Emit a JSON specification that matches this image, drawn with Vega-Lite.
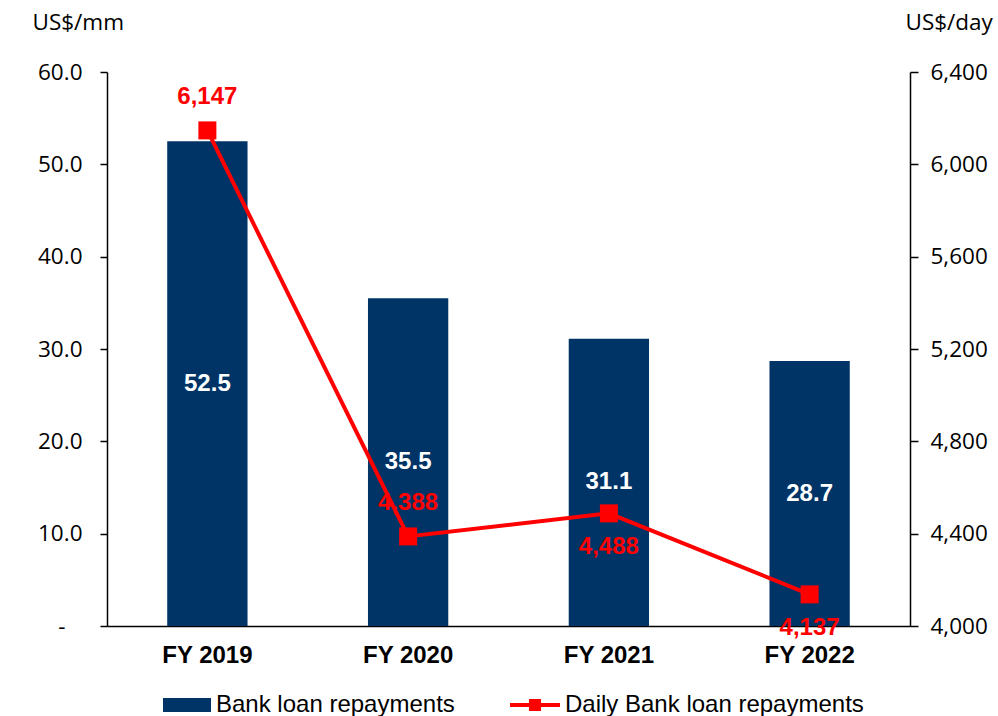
{
  "$schema": "https://vega.github.io/schema/vega-lite/v6.json",
  "width": 803,
  "height": 554,
  "autosize": {"type": "none"},
  "padding": {"left": 107, "top": 72, "right": 88, "bottom": 90},
  "background": "white",
  "config": {"view": {"stroke": null}, "axis": {"grid": false}},
  "data": {
    "values": [
      {"year": "FY 2019", "repay": 52.5, "daily": 6147},
      {"year": "FY 2020", "repay": 35.5, "daily": 4388},
      {"year": "FY 2021", "repay": 31.1, "daily": 4488},
      {"year": "FY 2022", "repay": 28.7, "daily": 4137}
    ]
  },
  "encoding": {
    "x": {
      "field": "year",
      "type": "nominal",
      "sort": null,
      "scale": {"paddingInner": 0.6, "paddingOuter": 0.3},
      "axis": {
        "title": null,
        "labelAngle": 0,
        "labelFont": "Liberation Sans",
        "labelFontWeight": "bold",
        "labelFontSize": 24,
        "labelColor": "black",
        "labelPadding": 17,
        "ticks": false,
        "domainColor": "black",
        "domainWidth": 1.5
      }
    }
  },
  "layer": [
    {
      "mark": {"type": "bar", "color": "#003366"},
      "encoding": {
        "y": {
          "field": "repay",
          "type": "quantitative",
          "scale": {"domain": [0, 60], "nice": false},
          "axis": {
            "values": [0, 10, 20, 30, 40, 50, 60],
            "labelExpr": "datum.value == 0 ? '-' : format(datum.value, '.1f')",
            "labelFont": "Open Sans",
            "labelFontSize": 22.5,
            "labelColor": "black",
            "labelPadding": {"condition": {"test": "datum.value == 0", "value": 35}, "value": 18},
            "tickSize": 7,
            "tickColor": "black",
            "tickWidth": 1.5,
            "domainColor": "black",
            "domainWidth": 1.5,
            "title": "US$/mm",
            "titleAngle": 0,
            "titleAlign": "left",
            "titleBaseline": "alphabetic",
            "titleX": -75,
            "titleY": -43,
            "titleFont": "Open Sans",
            "titleFontSize": 22.5,
            "titleFontWeight": "normal",
            "titleColor": "black"
          }
        },
        "fill": {
          "datum": "Bank loan repayments",
          "type": "nominal",
          "scale": {"domain": ["Bank loan repayments"], "range": ["#003366"]},
          "legend": {
            "orient": "none",
            "legendX": 56,
            "legendY": 609,
            "title": null,
            "padding": 0,
            "symbolType": "M-1,-0.29H1V0.29H-1Z",
            "symbolSize": 2304,
            "symbolStrokeWidth": 0,
            "labelFont": "Liberation Sans",
            "labelFontSize": 24,
            "labelColor": "black",
            "labelOffset": 5,
            "labelLimit": 400
          }
        }
      }
    },
    {
      "mark": {"type": "text", "color": "white", "font": "Liberation Sans", "fontWeight": "bold", "fontSize": 24, "baseline": "middle"},
      "encoding": {
        "y": {
          "field": "repay",
          "type": "quantitative",
          "scale": {"domain": [0, 120], "nice": false},
          "axis": null
        },
        "text": {"field": "repay", "type": "quantitative", "format": ".1f"}
      }
    },
    {
      "encoding": {
        "y": {
          "field": "daily",
          "type": "quantitative",
          "scale": {"domain": [4000, 6400], "nice": false, "zero": false},
          "axis": {
            "orient": "right",
            "values": [4000, 4400, 4800, 5200, 5600, 6000, 6400],
            "format": ",d",
            "labelFont": "Open Sans",
            "labelFontSize": 22.5,
            "labelColor": "black",
            "labelPadding": 12,
            "tickSize": 8,
            "tickColor": "black",
            "tickWidth": 1.5,
            "domainColor": "black",
            "domainWidth": 1.5,
            "title": "US$/day",
            "titleAngle": 0,
            "titleAlign": "left",
            "titleBaseline": "alphabetic",
            "titleX": -5,
            "titleY": -43,
            "titleFont": "Open Sans",
            "titleFontSize": 22.5,
            "titleFontWeight": "normal",
            "titleColor": "black"
          }
        }
      },
      "layer": [
        {
          "mark": {"type": "line", "strokeWidth": 4},
          "encoding": {
            "stroke": {
              "datum": "Daily Bank loan repayments",
              "type": "nominal",
              "scale": {"domain": ["Daily Bank loan repayments"], "range": ["#FF0000"]},
              "legend": {
                "orient": "none",
                "legendX": 403,
                "legendY": 608,
                "title": null,
                "padding": 0,
                "symbolType": "M-1,-0.08H1V0.08H-1Z M-0.24,-0.24H0.24V0.24H-0.24Z",
                "symbolSize": 2500,
                "symbolFillColor": "#FF0000",
                "symbolStrokeWidth": 0,
                "labelFont": "Liberation Sans",
                "labelFontSize": 24,
                "labelColor": "black",
                "labelOffset": 5,
                "labelLimit": 400
              }
            }
          }
        },
        {
          "mark": {"type": "point", "shape": "square", "filled": true, "size": 324, "color": "#FF0000", "opacity": 1}
        },
        {
          "transform": [{"filter": {"field": "year", "oneOf": ["FY 2019", "FY 2020"]}}],
          "mark": {"type": "text", "color": "#FF0000", "font": "Liberation Sans", "fontWeight": "bold", "fontSize": 24, "baseline": "middle", "dy": -33},
          "encoding": {"text": {"field": "daily", "type": "quantitative", "format": ","}}
        },
        {
          "transform": [{"filter": {"field": "year", "oneOf": ["FY 2021", "FY 2022"]}}],
          "mark": {"type": "text", "color": "#FF0000", "font": "Liberation Sans", "fontWeight": "bold", "fontSize": 24, "baseline": "middle", "dy": 34},
          "encoding": {"text": {"field": "daily", "type": "quantitative", "format": ","}}
        }
      ]
    }
  ],
  "resolve": {"scale": {"y": "independent"}, "axis": {"y": "independent"}}
}
